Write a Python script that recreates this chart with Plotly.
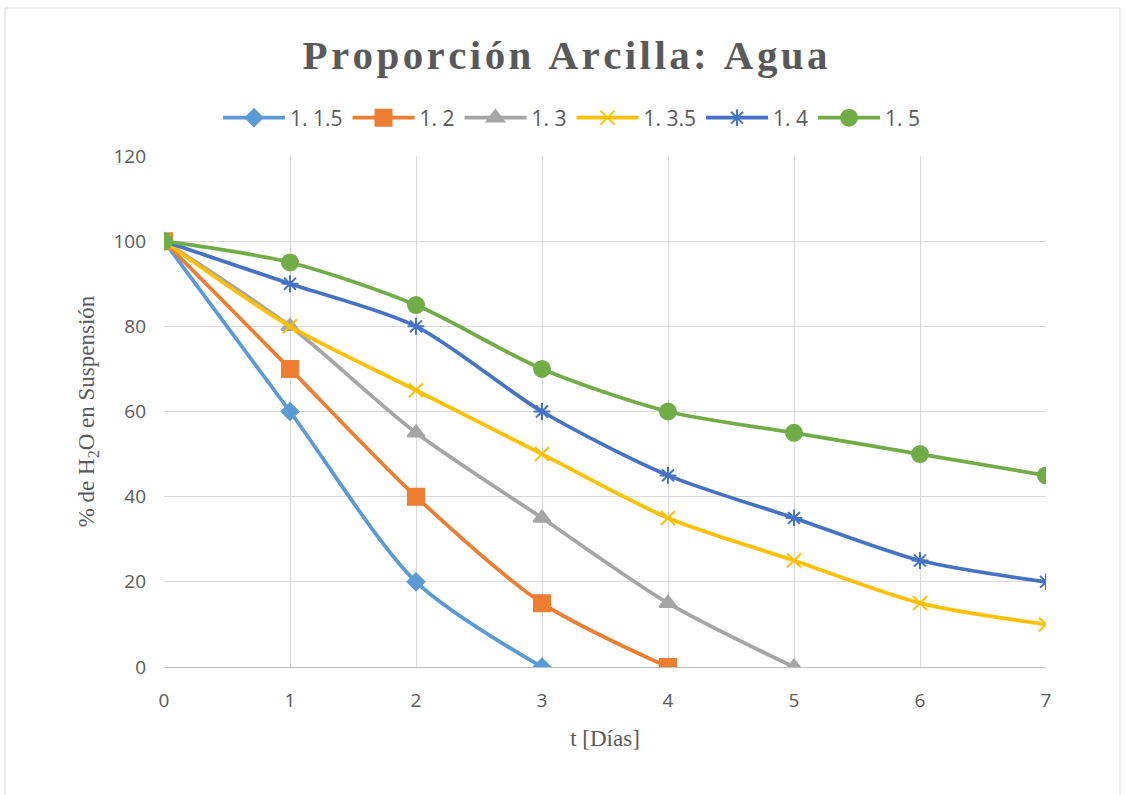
import plotly.graph_objects as go

days = [0, 1, 2, 3, 4, 5, 6, 7]
series_names = ["1. 1.5", "1. 2", "1. 3", "1. 3.5", "1. 4", "1. 5"]
s_1_1_5 = [100, 60, 20, 0]
s_1_2 = [100, 70, 40, 15, 0]
s_1_3 = [100, 80, 55, 35, 15, 0]
s_1_3_5 = [100, 80, 65, 50, 35, 25, 15, 10]
s_1_4 = [100, 90, 80, 60, 45, 35, 25, 20]
s_1_5 = [100, 95, 85, 70, 60, 55, 50, 45]

values = [s_1_1_5, s_1_2, s_1_3, s_1_3_5, s_1_4, s_1_5]
colors = ["#5B9BD5", "#ED7D31", "#A5A5A5", "#FFC000", "#4472C4", "#70AD47"]
symbols = ["diamond", "square", "triangle-up", "x-thin-open", "asterisk-open", "circle"]
sizes = [13, 16, 15, 14, 14, 16]

fig = go.Figure()
for name, v, c, s, sz in zip(series_names, values, colors, symbols, sizes):
    fig.add_trace(go.Scatter(
        x=days[:len(v)], y=v, name=name, mode="lines+markers",
        line=dict(color=c, width=3.75, shape="spline", smoothing=0.8),
        marker=dict(symbol=s, size=sz, color=c, line=dict(color=c, width=2)),
    ))

L, R, T, B = 164, 79, 156, 128
W, H = 1125, 795
pw, ph = W - L - R, H - T - B

def px_x(p):
    return (p - L) / pw

def px_y(p):
    return (H - B - p) / ph

fig.add_shape(type="rect", xref="paper", yref="paper",
              x0=px_x(5), x1=px_x(1120), y0=px_y(805), y1=px_y(8),
              line=dict(color="#D9D9D9", width=1), fillcolor="rgba(0,0,0,0)", layer="below")

title_text = "\u200a".join("Proporción Arcilla: Agua")
tick_font = dict(family="Open Sans, Noto Sans, sans-serif", size=19, color="#595959")
legend_font = dict(family="Open Sans, Noto Sans, sans-serif", size=21, color="#595959")
serif = "Liberation Serif, Times New Roman, serif"
fig.update_layout(
    width=W, height=H,
    margin=dict(l=L, r=R, t=T, b=B),
    paper_bgcolor="white", plot_bgcolor="white",
    title=dict(text=title_text, xref="paper", x=px_x(565), xanchor="center",
               y=1 - 55 / H, yanchor="middle",
               font=dict(family=serif, size=41, color="#595959", weight="bold")),
    legend=dict(orientation="h", x=px_x(572), xanchor="center", y=px_y(118), yanchor="middle",
                font=legend_font, itemwidth=62, tracegroupgap=0, bgcolor="rgba(0,0,0,0)"),
    xaxis=dict(range=[0, 7], tickvals=days, showgrid=True, gridcolor="#D9D9D9", gridwidth=1,
               zeroline=False, showline=True, linecolor="#BFBFBF", linewidth=1, ticks="",
               tickfont=tick_font, ticklabelstandoff=16,
               title=dict(text="t [Días]", standoff=18,
                          font=dict(family=serif, size=23, color="#595959"))),
    yaxis=dict(range=[0, 120], dtick=20, showgrid=True, gridcolor="#D9D9D9", gridwidth=1,
               zeroline=False, showline=False, ticks="", tickfont=tick_font, ticklabelstandoff=17,
               title=dict(text="% de H<sub>2</sub>O en Suspensión", standoff=12,
                          font=dict(family=serif, size=23, color="#595959"))),
)

fig.write_html("out.html")
